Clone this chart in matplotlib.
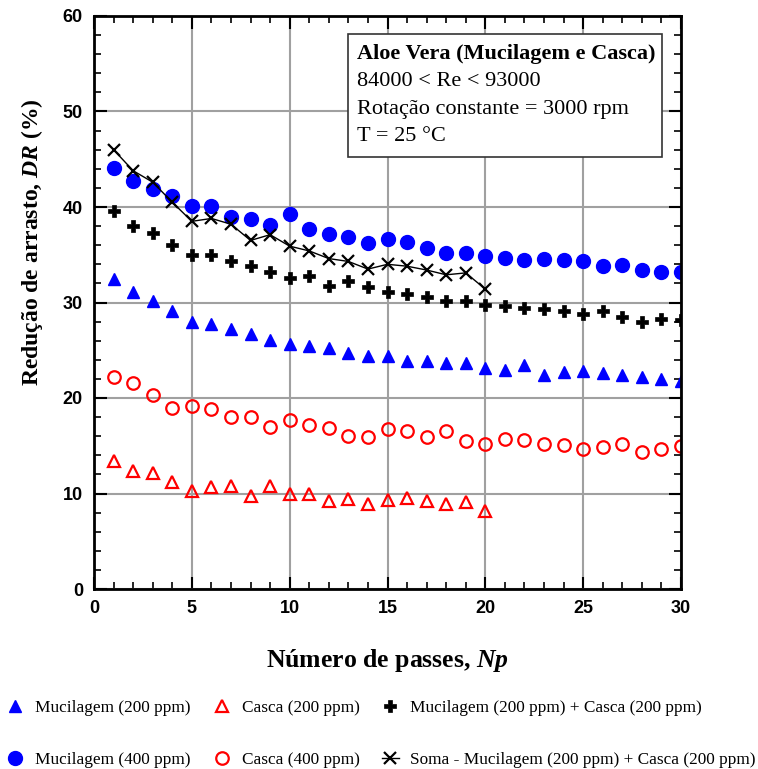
import matplotlib
matplotlib.use("Agg")
import matplotlib.pyplot as plt
from matplotlib.ticker import MultipleLocator

# Number of passes
np_all = list(range(1, 31))
np_20 = list(range(1, 21))

# Drag reduction DR (%)
mucilagem_200 = [32.5, 31.1, 30.2, 29.1, 28.0, 27.7, 27.2, 26.7, 26.1, 25.7,
                 25.4, 25.2, 24.7, 24.4, 24.4, 23.9, 23.9, 23.7, 23.7, 23.1,
                 22.9, 23.5, 22.4, 22.7, 22.8, 22.6, 22.4, 22.2, 22.0, 21.8]
mucilagem_400 = [44.1, 42.7, 41.9, 41.2, 40.1, 40.1, 39.0, 38.7, 38.1, 39.3,
                 37.7, 37.2, 36.9, 36.2, 36.7, 36.3, 35.7, 35.2, 35.2, 34.9,
                 34.7, 34.4, 34.6, 34.5, 34.3, 33.8, 33.9, 33.4, 33.2, 33.2]
casca_200 = [13.4, 12.4, 12.1, 11.2, 10.3, 10.7, 10.8, 9.7, 10.8, 10.0,
             9.9, 9.2, 9.4, 8.9, 9.3, 9.5, 9.2, 8.9, 9.1, 8.2]
casca_400 = [22.2, 21.6, 20.3, 19.0, 19.2, 18.9, 18.0, 18.0, 17.0, 17.7,
             17.2, 16.9, 16.0, 15.9, 16.8, 16.5, 15.9, 16.5, 15.5, 15.2,
             15.7, 15.6, 15.2, 15.1, 14.7, 14.9, 15.2, 14.3, 14.7, 15.0]
mucilagem_casca = [39.6, 38.0, 37.3, 36.0, 35.0, 35.0, 34.3, 33.8, 33.2, 32.6,
                   32.8, 31.7, 32.2, 31.6, 31.1, 30.9, 30.6, 30.2, 30.2, 29.7,
                   29.6, 29.4, 29.3, 29.1, 28.8, 29.1, 28.5, 28.0, 28.3, 28.2]
soma = [46.0, 43.8, 42.6, 40.5, 38.5, 38.8, 38.2, 36.5, 37.1, 35.9,
        35.4, 34.6, 34.3, 33.5, 34.0, 33.8, 33.4, 32.9, 33.1, 31.4]

labels = ["Mucilagem (200 ppm)", "Casca (200 ppm)",
          "Mucilagem (200 ppm) + Casca (200 ppm)",
          "Mucilagem (400 ppm)", "Casca (400 ppm)",
          "Soma - Mucilagem (200 ppm) + Casca (200 ppm)"]

info_title = "Aloe Vera (Mucilagem e Casca)"
info_lines = ["84000 < Re < 93000", "Rotação constante = 3000 rpm", "T = 25 °C"]

SERIF = "Liberation Serif"
SANS = "Liberation Sans"
BLUE = "#0000FF"
RED = "#FF0000"

plt.rcParams["mathtext.fontset"] = "custom"
plt.rcParams["mathtext.it"] = "Liberation Serif:italic:bold"
plt.rcParams["mathtext.rm"] = "Liberation Serif:bold"
plt.rcParams["mathtext.bf"] = "Liberation Serif:italic:bold"

fig = plt.figure(figsize=(7.58, 7.69), dpi=100)
ax = fig.add_axes([94 / 758, 1 - 589 / 769, 587 / 758, 573 / 769])

h_m200, = ax.plot(np_all, mucilagem_200, ls="none", marker="^", ms=9,
                  color=BLUE, mec=BLUE)
h_m400, = ax.plot(np_all, mucilagem_400, ls="none", marker="o", ms=10,
                  color=BLUE, mec=BLUE)
h_c200, = ax.plot(np_20, casca_200, ls="none", marker="^", ms=8,
                  mfc="none", mec=RED, mew=1.6)
h_c400, = ax.plot(np_all, casca_400, ls="none", marker="o", ms=9,
                  mfc="none", mec=RED, mew=1.6)
h_mc, = ax.plot(np_all, mucilagem_casca, ls="none", marker="P", ms=9,
                color="black", mec="black", mew=0.5)
h_soma, = ax.plot(np_20, soma, ls="-", lw=1.0, marker="x", ms=9,
                  color="black", mew=1.6)

ax.set_xlim(0, 30)
ax.set_ylim(0, 60)
ax.xaxis.set_major_locator(MultipleLocator(5))
ax.xaxis.set_minor_locator(MultipleLocator(1))
ax.yaxis.set_major_locator(MultipleLocator(10))
ax.yaxis.set_minor_locator(MultipleLocator(2))
ax.grid(True, which="major", color="#a0a0a0", lw=1.5)
ax.set_axisbelow(True)
ax.tick_params(which="both", direction="in", top=True, right=True,
               color="black")
ax.tick_params(which="major", length=9, width=1.5)
ax.tick_params(which="minor", length=5, width=1.2)
ax.tick_params(axis="both", labelsize=13, pad=8)
for lab in ax.get_xticklabels() + ax.get_yticklabels():
    lab.set_fontfamily(SANS)
    lab.set_fontweight("bold")
for sp in ax.spines.values():
    sp.set_linewidth(2.0)
    sp.set_color("black")

ax.set_xlabel(r"Número de passes, $\mathit{Np}$", family=SERIF,
              fontweight="bold", fontsize=18.5)
ax.xaxis.set_label_coords(0.5, -0.101)
ax.set_ylabel(r"Redução de arrasto, $\mathit{DR}$ (%)", family=SERIF,
              fontweight="bold", fontsize=17)
ax.yaxis.set_label_coords(-0.083, 0.606)

# Information box
ax.add_patch(plt.Rectangle((0.432, 0.754), 0.535, 0.215,
                           transform=ax.transAxes, facecolor="white",
                           edgecolor="#333333", lw=1.2, zorder=2.5))
box_y = [0.934, 0.885, 0.836, 0.789]
ax.text(0.448, box_y[0], info_title, transform=ax.transAxes, family=SERIF,
        fontsize=16, fontweight="bold", va="center", ha="left", zorder=3)
for yy, line in zip(box_y[1:], info_lines):
    ax.text(0.448, yy, line, transform=ax.transAxes, family=SERIF,
            fontsize=16, va="center", ha="left", zorder=3)

handles = [h_m200, h_m400, h_c200, h_c400, h_mc, h_soma]
leg_labels = [labels[0], labels[3], labels[1], labels[4], labels[2], labels[5]]
leg = fig.legend(handles, leg_labels, loc="lower left", ncol=3,
                 bbox_to_anchor=(-0.005, -0.012), frameon=False,
                 prop={"family": SERIF, "size": 12.4}, handlelength=1.0,
                 handletextpad=0.66, columnspacing=1.3, labelspacing=2.1,
                 borderaxespad=0.2)

fig.savefig("out.png", dpi=100)
